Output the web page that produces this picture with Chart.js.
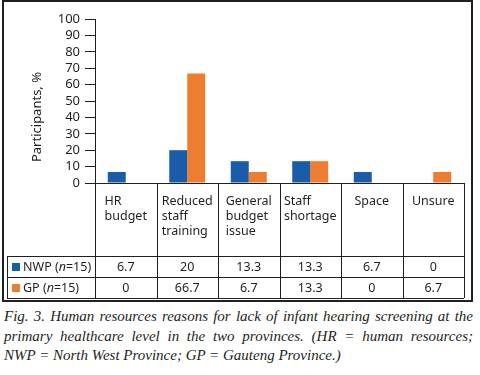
<!DOCTYPE html>
<html>
<head>
<meta charset="utf-8">
<script src="https://cdn.jsdelivr.net/npm/chart.js@4"></script>
<style>
  body { margin: 0; background: #fff; }
  #wrap { position: relative; width: 480px; height: 375px; }
  #graf { position: absolute; left: 0; top: 0; }
  .cap { position: absolute; left: 4px; top: 307px; width: 469px; font: italic 15px "Liberation Serif", serif; color: #231f20; }
  .cap div { height: 19.5px; line-height: 19.5px; text-align: justify; text-align-last: justify; }
  .cap div.ult { text-align: left; text-align-last: left; }
</style>
</head>
<body>
<div id="wrap">
  <canvas id="graf" width="480" height="303"></canvas>
  <div class="cap">
    <div>Fig. 3. Human resources reasons for lack of infant hearing screening at the</div>
    <div>primary healthcare level in the two provinces. (HR = human resources;</div>
    <div class="ult">NWP = North West Province; GP = Gauteng Province.)</div>
  </div>
</div>
<script>
// dados
const categorias = [["HR", "budget"], ["Reduced", "staff", "training"], ["General", "budget", "issue"], ["Staff", "shortage"], ["Space"], ["Unsure"]];
const nwp = [6.7, 20, 13.3, 13.3, 6.7, 0];
const gp = [0, 66.7, 6.7, 13.3, 0, 6.7];
const series = ["NWP", "GP"];
const amostras = [15, 15];
const yMin = 0, yMax = 100, yPasso = 10;
const yTitulo = "Participants, %";

const AZUL = "#1a5ca8";
const LARANJA = "#ed7d31";
const TINTA = "#231f20";
const FONTE = "'Noto Sans', sans-serif";
const TAM = "12.5px ";

// tabela abaixo do gráfico, alinhada com a escala x
const tabela = {
  id: "tabela",
  afterDraw(chart) {
    const ctx = chart.ctx;
    const x = chart.scales.x;
    const base = chart.chartArea.bottom;
    const esq = x.left, dir = x.right;
    const larg = (dir - esq) / categorias.length;
    const yCat = 256, yL1 = 277, yL2 = 298, xLeg = 7;

    ctx.save();
    ctx.strokeStyle = TINTA;
    ctx.lineWidth = 1;
    ctx.beginPath();
    ctx.moveTo(esq, base + 0.5); ctx.lineTo(dir, base + 0.5);
    [yCat, yL1, yL2].forEach(y => { ctx.moveTo(xLeg, y + 0.5); ctx.lineTo(dir, y + 0.5); });
    for (let i = 0; i <= categorias.length; i++) {
      const cx = Math.round(esq + i * larg) + 0.5;
      ctx.moveTo(cx, base); ctx.lineTo(cx, yL2);
    }
    ctx.moveTo(xLeg + 0.5, yCat); ctx.lineTo(xLeg + 0.5, yL2);
    ctx.stroke();

    // moldura
    ctx.lineWidth = 2;
    ctx.strokeRect(3, 1, 469, 300);

    ctx.fillStyle = TINTA;
    ctx.font = TAM + FONTE;
    ctx.textBaseline = "alphabetic";
    ctx.textAlign = "left";
    categorias.forEach((linhas, i) => {
      const c = x.getPixelForValue(i);
      const w = Math.max(...linhas.map(l => ctx.measureText(l).width));
      linhas.forEach((l, j) => ctx.fillText(l, c - w / 2, 205 + j * 15));
    });

    ctx.textAlign = "center";
    ctx.textBaseline = "middle";
    [nwp, gp].forEach((vals, k) => {
      const y = k === 0 ? 267 : 288;
      vals.forEach((v, i) => ctx.fillText(String(v), x.getPixelForValue(i), y));
    });

    // legenda
    ctx.textAlign = "left";
    [AZUL, LARANJA].forEach((cor, k) => {
      const y = k === 0 ? 267 : 288;
      ctx.fillStyle = cor;
      ctx.fillRect(12, y - 4, 8, 8);
      ctx.fillStyle = TINTA;
      let px = 23;
      const partes = [[series[k] + " (", TAM], ["n", "italic " + TAM], ["=" + amostras[k] + ")", TAM]];
      partes.forEach(([t, f]) => {
        ctx.font = f + FONTE;
        ctx.fillText(t, px, y);
        px += ctx.measureText(t).width;
      });
    });

    // titulo do eixo y
    ctx.font = "13px " + FONTE;
    ctx.translate(37, 117);
    ctx.rotate(-Math.PI / 2);
    ctx.textAlign = "center";
    ctx.fillText(yTitulo, 0, 0);
    ctx.restore();
  }
};

new Chart(document.getElementById("graf"), {
  type: "bar",
  data: {
    labels: categorias,
    datasets: [
      { label: series[0], data: nwp, backgroundColor: AZUL, borderWidth: 0 },
      { label: series[1], data: gp, backgroundColor: LARANJA, borderWidth: 0 }
    ]
  },
  options: {
    responsive: false,
    animation: false,
    layout: { padding: { left: 0, right: 16, top: 19, bottom: 120 } },
    plugins: { legend: { display: false }, tooltip: { enabled: false } },
    datasets: { bar: { barPercentage: 1, categoryPercentage: 0.585 } },
    scales: {
      x: { display: false },
      y: {
        min: yMin, max: yMax,
        ticks: { stepSize: yPasso, autoSkip: false, color: TINTA, padding: 5, font: { family: FONTE, size: 13 } },
        grid: { drawOnChartArea: false, drawTicks: true, tickLength: 10, color: TINTA },
        border: { color: TINTA },
        afterFit: s => { s.width = 95; }
      }
    }
  },
  plugins: [tabela]
});
</script>
</body>
</html>
